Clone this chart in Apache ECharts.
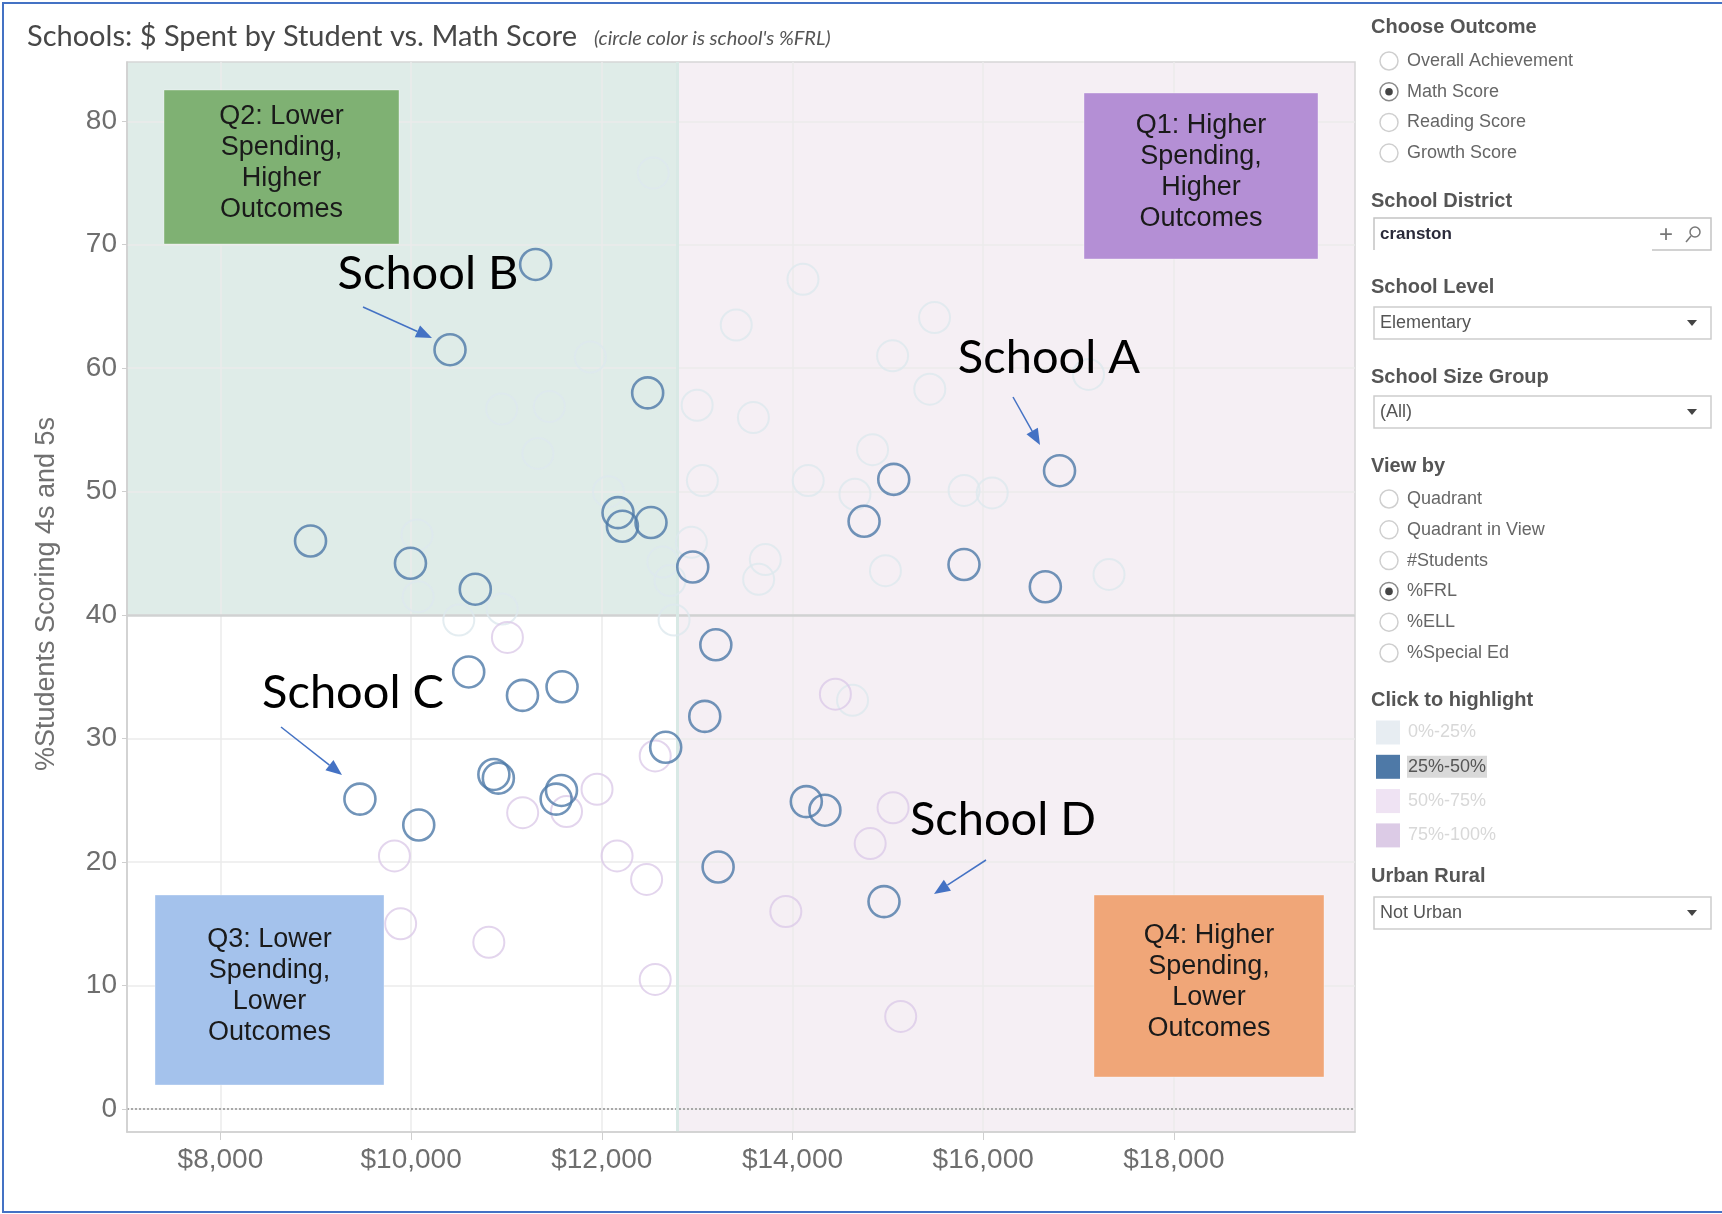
<!DOCTYPE html>
<html>
<head>
<meta charset="utf-8">
<title>Schools: $ Spent by Student vs. Math Score</title>
<script src="https://cdn.jsdelivr.net/npm/echarts@6/dist/echarts.min.js"></script>
<style>
  html, body { margin: 0; padding: 0; background: #fff; }
  #chart { width: 1722px; height: 1214px; }
</style>
</head>
<body>
<div id="chart"></div>
<script>
// [$ spent per student, % students scoring 4s and 5s] for each school, by %FRL band
const frl25to50 = [
  [11306, 68.4], [10408, 61.5], [12481, 58.0], [16801, 51.7], [15062, 51.0], [8945, 46.0], [12170, 48.3], [12216, 47.2],
  [12516, 47.5], [14751, 47.6], [9993, 44.2], [12954, 43.9], [15799, 44.1], [10673, 42.1], [16652, 42.3], [13196, 37.6],
  [10604, 35.4], [11168, 33.5], [11583, 34.2], [13080, 31.8], [12670, 29.3], [10868, 27.1], [10915, 26.8], [11577, 25.8],
  [11521, 25.1], [9463, 25.1], [10080, 23.0], [14145, 24.9], [14340, 24.2], [13220, 19.6], [14960, 16.8]
];
const frl0to25 = [
  [12540, 75.8], [14110, 67.2], [13410, 63.5], [15490, 64.1], [11880, 60.9], [15050, 61.0], [17105, 59.5], [15440, 58.3],
  [10950, 56.7], [11450, 56.9], [13000, 57.0], [13590, 56.0], [11330, 53.1], [14840, 53.4], [13055, 50.9], [14165, 50.9],
  [12070, 50.0], [14655, 49.8], [15800, 50.1], [16095, 49.9], [10062, 46.5], [12940, 45.9], [13715, 44.5], [13645, 42.9],
  [14975, 43.6], [17320, 43.3], [10074, 41.5], [10955, 40.5], [12640, 44.3], [12715, 42.8], [10500, 39.6], [12758, 39.6],
  [14630, 33.1]
];
const frl50to100 = [
  [11010, 38.2], [14450, 33.6], [12560, 28.6], [11950, 25.9], [11170, 24.0], [11630, 24.1], [15055, 24.4], [9825, 20.5],
  [12160, 20.5], [12470, 18.6], [14815, 21.5], [13930, 16.0], [9890, 15.0], [10815, 13.5], [12560, 10.5], [15135, 7.5]
];

const xTicks = [8000, 10000, 12000, 14000, 16000, 18000];
const yTicks = [0, 10, 20, 30, 40, 50, 60, 70, 80];
const xRange = [7020, 19900];
const yRange = [-1.86, 84.8];
const medianSpend = 12790;
const scoreCut = 40;

const outcomeOptions = ["Overall Achievement", "Math Score", "Reading Score", "Growth Score"];
const viewByOptions = ["Quadrant", "Quadrant in View", "#Students", "%FRL", "%ELL", "%Special Ed"];
const frlBands = ["0%-25%", "25%-50%", "50%-75%", "75%-100%"];

const ARIAL = '"Liberation Sans", Arial, sans-serif';
const BLUE = "#4e79a7";

// ---- annotations / sidebar widgets ----
const g = [];
const txt = (text, x, y, font, fill, extra) =>
  g.push({ type: "text", x, y, style: Object.assign({ text, font, fill, verticalAlign: "middle" }, extra || {}) });

// frame
g.push({ type: "polyline", shape: { points: [[1722, 3], [3, 3], [3, 1212], [1722, 1212]] }, style: { stroke: "#4472c4", lineWidth: 2, fill: null } });

// title
txt("Schools: $ Spent by Student vs. Math Score", 27, 37, "29px Lato", "#474747");
txt("(circle color is school's %FRL)", 594, 39, "italic 20px Lato", "#555");

// y axis title
g.push({ type: "text", x: 47, y: 594, rotation: Math.PI / 2,
  style: { text: "%Students Scoring 4s and 5s", font: "27px " + ARIAL, fill: "#707070", align: "center", verticalAlign: "middle" } });

// quadrant notes
function note(x, y, w, h, fill, text) {
  g.push({ type: "rect", shape: { x, y, width: w, height: h }, style: { fill, stroke: "rgba(255,255,255,0.35)", lineWidth: 1 } });
  g.push({ type: "text", x: x + w / 2, y: y + h / 2 - 4,
    style: { text, font: "27px " + ARIAL, fill: "#1a1a1a", align: "center", verticalAlign: "middle", lineHeight: 31 } });
}
note(164, 90, 235, 154, "#7fb173", "Q2: Lower\nSpending,\nHigher\nOutcomes");
note(1084, 93, 234, 166, "#b48fd5", "Q1: Higher\nSpending,\nHigher\nOutcomes");
note(155, 895, 229, 190, "#a4c2ec", "Q3: Lower\nSpending,\nLower\nOutcomes");
note(1094, 895, 230, 182, "#f0a678", "Q4: Higher\nSpending,\nLower\nOutcomes");

// school call-outs
function arrow(x1, y1, x2, y2) {
  const a = Math.atan2(y2 - y1, x2 - x1), L = 16, W = 6.5;
  const bx = x2 - L * Math.cos(a), by = y2 - L * Math.sin(a);
  g.push({ type: "line", shape: { x1, y1, x2: bx, y2: by }, style: { stroke: "#4472c4", lineWidth: 1.5 } });
  g.push({ type: "polygon", shape: { points: [[x2, y2], [bx + W * Math.sin(a), by - W * Math.cos(a)], [bx - W * Math.sin(a), by + W * Math.cos(a)]] },
    style: { fill: "#4472c4" } });
}
function callout(label, x, y) {
  g.push({ type: "text", x, y, style: { text: label, font: "47px Lato", fill: "#000", align: "center", verticalAlign: "middle" } });
}
callout("School B", 428, 274); arrow(363, 307, 432, 338);
callout("School A", 1049, 358); arrow(1013, 397, 1040, 445);
callout("School C", 353, 693); arrow(281, 727, 342, 775);
callout("School D", 1003, 820); arrow(986, 860, 934, 894);

// sidebar
const header = (t, y) => txt(t, 1371, y, "bold 20px " + ARIAL, "#555");
function radio(t, y, on) {
  g.push({ type: "circle", shape: { cx: 1389, cy: y, r: 9 }, style: { fill: "#fff", stroke: on ? "#8a8a8a" : "#cfcfcf", lineWidth: 1.5 } });
  if (on) g.push({ type: "circle", shape: { cx: 1389, cy: y, r: 3.8 }, style: { fill: "#444" } });
  txt(t, 1407, y, "18px " + ARIAL, "#666");
}
function dropdown(t, y) {
  g.push({ type: "rect", shape: { x: 1374, y, width: 337, height: 32 }, style: { fill: "#fff", stroke: "#cdcdcd", lineWidth: 1.5 } });
  txt(t, 1380, y + 16, "18px " + ARIAL, "#555");
  g.push({ type: "polygon", shape: { points: [[1687, y + 13], [1697, y + 13], [1692, y + 19]] }, style: { fill: "#444" } });
}

header("Choose Outcome", 27);
outcomeOptions.forEach((t, i) => radio(t, 61 + i * 30.7, t === "Math Score"));

header("School District", 201);
g.push({ type: "polyline", shape: { points: [[1374, 250], [1374, 218], [1711, 218], [1711, 250], [1652, 250]] },
  style: { stroke: "#c4c4c4", lineWidth: 1.5, fill: null } });
txt("cranston", 1380, 234, "bold 17px " + ARIAL, "#2a2a3a");
txt("+", 1666, 235, "24px " + ARIAL, "#777", { align: "center" });
g.push({ type: "circle", shape: { cx: 1695, cy: 232, r: 5 }, style: { fill: null, stroke: "#777", lineWidth: 1.5 } });
g.push({ type: "line", shape: { x1: 1691, y1: 236, x2: 1686, y2: 242 }, style: { stroke: "#777", lineWidth: 1.5 } });

header("School Level", 287);
dropdown("Elementary", 307);
header("School Size Group", 377);
dropdown("(All)", 396);

header("View by", 466);
viewByOptions.forEach((t, i) => radio(t, 499 + i * 30.8, t === "%FRL"));

header("Click to highlight", 700);
const bandFill = ["#e7edf2", BLUE, "#efe3f3", "#dccbe6"];
frlBands.forEach((t, i) => {
  const y = 732.5 + i * 34.3;
  g.push({ type: "rect", shape: { x: 1376, y: y - 12, width: 24, height: 24 }, style: { fill: bandFill[i] } });
  if (i === 1) g.push({ type: "rect", shape: { x: 1407, y: y - 11, width: 80, height: 22 }, style: { fill: "#d9d9d9" } });
  txt(t, 1408, y, "18px " + ARIAL, i === 1 ? "#555" : "#d8d8d8");
});

header("Urban Rural", 876);
dropdown("Not Urban", 897);

// ---- chart ----
const ring = (color, width) => ({ color: "rgba(0,0,0,0)", borderColor: color, borderWidth: width });

const chart = echarts.init(document.getElementById("chart"));
chart.setOption({
  animation: false,
  backgroundColor: "#fff",
  grid: { left: 127, right: 367, top: 62, bottom: 82, show: true, borderColor: "#d6d6d6", borderWidth: 1.5, z: 1, outerBoundsMode: "none" },
  xAxis: {
    type: "value", min: xRange[0], max: xRange[1], z: 1,
    axisLine: { show: true, onZero: false, lineStyle: { color: "#cfcfcf", width: 1.5 } },
    axisTick: { show: true, length: 8, customValues: xTicks, lineStyle: { color: "#cfcfcf" } },
    axisLabel: { customValues: xTicks, formatter: (v) => "$" + v.toLocaleString("en-US"), color: "#6e6e6e", fontSize: 28, fontFamily: ARIAL, margin: 14 },
    splitLine: { show: true, lineStyle: { color: "#ebebeb", width: 1.5 } }
  },
  yAxis: {
    type: "value", min: yRange[0], max: yRange[1], z: 1,
    axisLine: { show: true, onZero: false, lineStyle: { color: "#cfcfcf", width: 1.5 } },
    axisTick: { show: true, length: 5, customValues: yTicks, lineStyle: { color: "#cfcfcf" } },
    axisLabel: { customValues: yTicks, color: "#6e6e6e", fontSize: 28, fontFamily: ARIAL, margin: 10 },
    splitLine: { show: true, lineStyle: { color: "#ebebeb", width: 1.5 } }
  },
  series: [
    {
      name: "0%-25%", type: "scatter", data: frl0to25, symbolSize: 31, silent: true, z: 2,
      itemStyle: ring("#dde9ee", 2),
      markArea: {
        silent: true, z: 0,
        data: [
          [{ xAxis: xRange[0], yAxis: scoreCut, itemStyle: { color: "#dfece8" } }, { xAxis: medianSpend, yAxis: yRange[1] }],
          [{ xAxis: medianSpend, yAxis: yRange[0], itemStyle: { color: "#f5eff4" } }, { xAxis: xRange[1], yAxis: yRange[1] }]
        ]
      },
      markLine: {
        silent: true, symbol: "none", z: 1, label: { show: false },
        data: [
          { yAxis: 0, lineStyle: { color: "#a8a8a8", type: [2, 2], width: 2 } },
          { yAxis: scoreCut, lineStyle: { color: "#d0d2d2", type: "solid", width: 2.5 } },
          { xAxis: medianSpend, lineStyle: { color: "#d8e9e5", type: "solid", width: 3 } }
        ]
      }
    },
    { name: "50%-100%", type: "scatter", data: frl50to100, symbolSize: 31, silent: true, z: 2, itemStyle: ring("#dccbe8", 2) },
    { name: "25%-50%", type: "scatter", data: frl25to50, symbolSize: 31, silent: true, z: 3, itemStyle: ring(BLUE, 2.6) }
  ],
  graphic: { elements: g.map((e) => Object.assign({ z: 20, silent: true }, e)) }
});
</script>
</body>
</html>
